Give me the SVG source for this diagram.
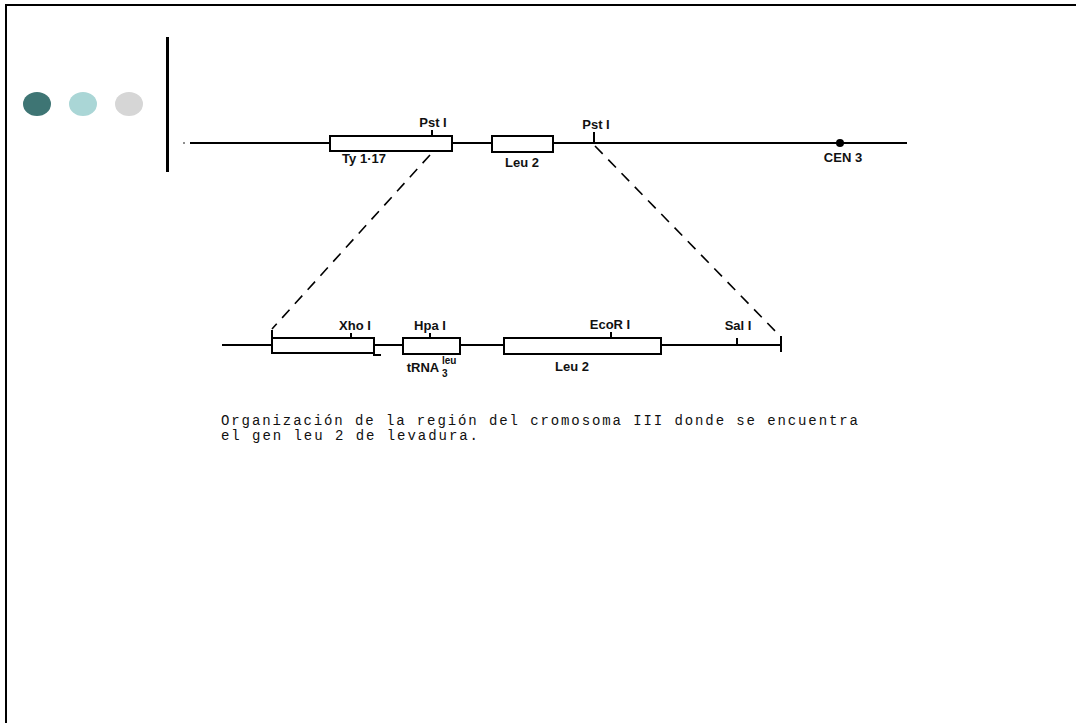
<svg xmlns="http://www.w3.org/2000/svg" width="1076" height="723" viewBox="0 0 1076 723">
<style>
.ln{stroke:#000;stroke-width:2;fill:none}
.bx{stroke:#000;stroke-width:2;fill:#fff}
.ds{stroke:#000;stroke-width:1.6;fill:none;stroke-dasharray:11 8}
.lb{font-family:"Liberation Sans",Arial,sans-serif;font-size:13px;font-weight:bold;fill:#111;text-anchor:middle}
.sm{font-family:"Liberation Sans",Arial,sans-serif;font-size:10px;font-weight:bold;fill:#111}
.cap{font-family:"Liberation Mono","Courier New",monospace;font-size:14px;fill:#111}
</style>
<rect width="1076" height="723" fill="#fff"/>
<g id="frame">
<line x1="5" y1="5" x2="1076" y2="5" stroke="#000" stroke-width="2"/>
<line x1="6" y1="4" x2="6" y2="723" stroke="#000" stroke-width="2"/>
</g>
<g id="bullets">
<ellipse cx="37" cy="104" rx="14" ry="12" fill="#3e7574"/>
<ellipse cx="83" cy="104" rx="14" ry="12" fill="#aad6d6"/>
<ellipse cx="129" cy="104" rx="14" ry="12" fill="#d6d6d6"/>
<rect x="166" y="37" width="3" height="135" fill="#000"/>
</g>
<g id="chromosome">
<circle cx="184" cy="143" r="0.8" fill="#000"/>
<line class="ln" x1="190" y1="143" x2="907" y2="143"/>
<rect class="bx" x="330" y="136" width="122" height="15"/>
<line class="ln" x1="432" y1="130" x2="432" y2="136"/>
<text class="lb" x="433" y="127">Pst I</text>
<text class="lb" x="364" y="163">Ty 1·17</text>
<rect class="bx" x="492" y="136" width="61" height="16"/>
<text class="lb" x="522" y="167">Leu 2</text>
<line class="ln" x1="594" y1="132" x2="594" y2="143"/>
<text class="lb" x="596" y="129">Pst I</text>
<circle cx="840" cy="143" r="4" fill="#000"/>
<text class="lb" x="843" y="162">CEN 3</text>
</g>
<g id="connectors">
<line class="ds" x1="430" y1="155" x2="272" y2="329"/>
<line class="ds" x1="595" y1="146" x2="781" y2="337"/>
</g>
<g id="detail">
<line class="ln" x1="222" y1="345" x2="781" y2="345"/>
<line class="ln" x1="272" y1="330" x2="272" y2="354"/>
<rect class="bx" x="272" y="338" width="102" height="15"/>
<line class="ln" x1="373" y1="355" x2="381" y2="355"/>
<line class="ln" x1="351" y1="333" x2="351" y2="338"/>
<text class="lb" x="355" y="330">Xho I</text>
<rect class="bx" x="403" y="338" width="57" height="16"/>
<line class="ln" x1="430" y1="333" x2="430" y2="338"/>
<text class="lb" x="430" y="330">Hpa I</text>
<text class="lb" x="423" y="372">tRNA</text>
<text class="sm" x="442" y="364">leu</text>
<text class="sm" x="442" y="377">3</text>
<rect class="bx" x="504" y="338" width="157" height="16"/>
<line class="ln" x1="611" y1="332" x2="611" y2="338"/>
<text class="lb" x="610" y="329">EcoR I</text>
<text class="lb" x="572" y="371">Leu 2</text>
<line class="ln" x1="737" y1="338" x2="737" y2="345"/>
<text class="lb" x="738" y="330">Sal I</text>
<line class="ln" x1="781" y1="336" x2="781" y2="352"/>
</g>
<g id="caption">
<text class="cap" x="221" y="425" textLength="637" lengthAdjust="spacing">Organización de la región del cromosoma III donde se encuentra</text>
<text class="cap" x="221" y="440" textLength="257" lengthAdjust="spacing">el gen leu 2 de levadura.</text>
</g>
</svg>
